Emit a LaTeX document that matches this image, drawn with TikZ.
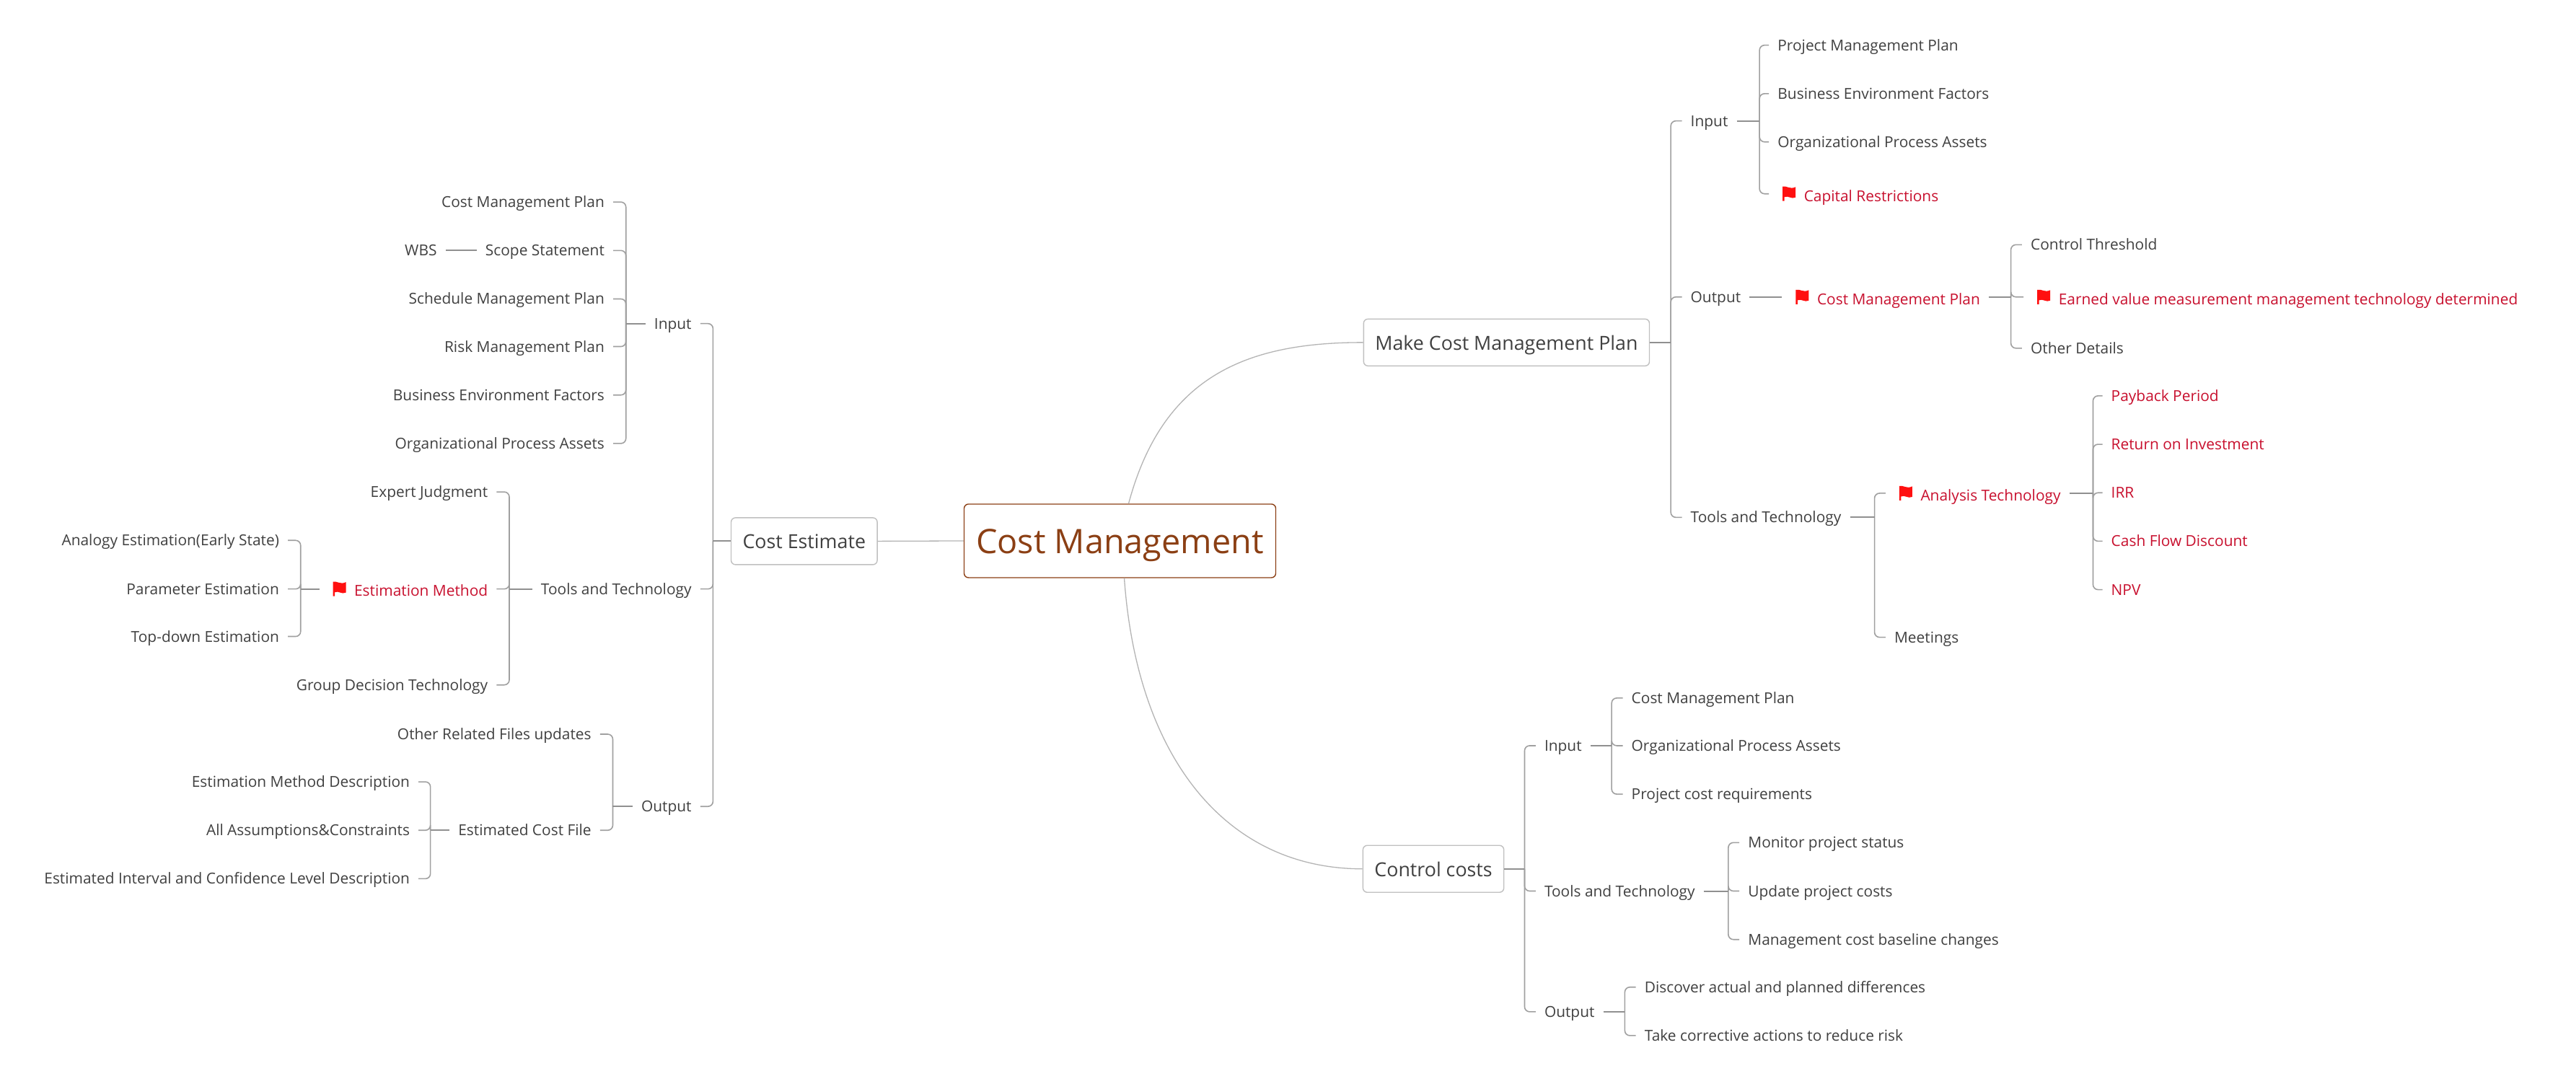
\documentclass[tikz,border=0pt]{standalone}
\usepackage{fontspec}
\setmainfont{Open Sans}
\definecolor{txt}{HTML}{404040}
\definecolor{redtxt}{HTML}{C8102E}
\definecolor{flagred}{HTML}{FF1010}
\definecolor{rootc}{HTML}{8B3F14}
\definecolor{stemc}{HTML}{909090}
\definecolor{twigc}{HTML}{A0A0A0}
\definecolor{curvec}{HTML}{B4B4B4}
\definecolor{boxc}{HTML}{C0C0C0}
\tikzset{
  base/.style={font=\fontsize{20.9}{25}\selectfont,text=txt,text height=15pt,text depth=0pt,inner ysep=4pt,inner xsep=12pt},
  R/.style={base,anchor=west,xshift=-12pt},
  L/.style={base,anchor=east,xshift=12pt},
  hot/.style={text=redtxt},
  topic/.style={draw=boxc,line width=1.4pt,rounded corners=6pt,fill=white,font=\fontsize{26.8}{32}\selectfont,text=txt,text height=21pt,text depth=0pt,minimum height=65pt,inner xsep=16pt,inner ysep=0pt},
  rootbox/.style={draw=rootc,line width=1.4pt,rounded corners=6pt,fill=white,font=\fontsize{46.8}{54}\selectfont,text=rootc,text height=35pt,text depth=0pt,minimum width=432pt,minimum height=102pt,inner sep=0pt},
  stem/.style={draw=stemc,line width=2pt},
  twig/.style={draw=twigc,line width=1.6pt,rounded corners=7pt},
  curve/.style={draw=curvec,line width=1.3pt},
}
\newcommand{\flagged}[1]{\hspace*{36.4pt}\raisebox{-2.8pt}{#1}}
\newcommand{\treeR}[3]{%
  \coordinate (sp) at (#2,0);
  \coordinate (jn) at (#1.east -| sp);
  \foreach \c in {#3} {\draw[twig] (jn) |- (\c.west);}
  \draw[stem] (#1.east) -- (jn);
}
\newcommand{\treeL}[3]{%
  \coordinate (sp) at (#2,0);
  \coordinate (jn) at (#1.west -| sp);
  \foreach \c in {#3} {\draw[twig] (jn) |- (\c.east);}
  \draw[stem] (#1.west) -- (jn);
}
\newcommand{\flagon}[1]{%
  \fill[flagred,shift={(#1.west)},xshift=19pt,x=1pt,y=1pt]
    (0,10) .. controls (6,11.5) and (10,5.5) .. (18,9.5) -- (18,-5)
    .. controls (12,-8) and (8,-2) .. (2.5,-4.5) -- (2.5,-10) -- (0,-10) -- cycle;
}
\begin{document}
\begin{tikzpicture}[x=2.27742pt,y=-2.27742pt]
\path[use as bounding box,fill=white] (0,0) rectangle (1568,663);

% centre and main topics
\node[rootbox] (root) at (681.7,329.3) {Cost Management};
\node[topic] (mk) at (917,208.5) {Make Cost Management Plan};
\node[topic] (cc) at (872.5,529) {Control costs};
\node[topic] (ce) at (489.5,329.5) {Cost Estimate};
\draw[curve] ([xshift=12pt]root.north) .. controls (708,228) and (760,208.5) .. (mk.west);
\draw[curve] ([xshift=6pt]root.south) .. controls (692,461) and (746,529) .. (cc.west);
\draw[curve] (root.west) -- (ce.east);

% Make Cost Management Plan
\node[R] (mi) at (1029,73.6) {Input};
\node[R] (mo) at (1029,180.8) {Output};
\node[R] (mt) at (1029,315) {Tools and Technology};
\node[R] (mi1) at (1082,27.5) {Project Management Plan};
\node[R] (mi2) at (1082,57) {Business Environment Factors};
\node[R] (mi3) at (1082,86.4) {Organizational Process Assets};
\node[R,hot] (mi4) at (1082,118) {\flagged{Capital Restrictions}};
\node[R,hot] (mo1) at (1090,180.8) {\flagged{Cost Management Plan}};
\node[R] (mo11) at (1236,149) {Control Threshold};
\node[R,hot] (mo12) at (1237,180.8) {\flagged{Earned value measurement management technology determined}};
\node[R] (mo13) at (1236,212) {Other Details};
\node[R,hot] (mt1) at (1153,300.3) {\flagged{Analysis Technology}};
\node[R] (mt2) at (1153,388) {Meetings};
\node[R,hot] (mt11) at (1285,241) {Payback Period};
\node[R,hot] (mt12) at (1285,270.5) {Return on Investment};
\node[R,hot] (mt13) at (1285,300) {IRR};
\node[R,hot] (mt14) at (1285,329.5) {Cash Flow Discount};
\node[R,hot] (mt15) at (1285,359) {NPV};
\treeR{mk}{1017}{mi,mo,mt}
\treeR{mi}{1071}{mi1,mi2,mi3,mi4}
\draw[stem] (mo.east) -- (mo.east -| mo1.west);
\treeR{mo1}{1224}{mo11,mo12,mo13}
\treeR{mt}{1141}{mt1,mt2}
\treeR{mt1}{1274}{mt11,mt12,mt13,mt14,mt15}
\flagon{mi4}\flagon{mo1}\flagon{mo12}\flagon{mt1}

% Control costs
\node[R] (ci) at (940,454) {Input};
\node[R] (ct) at (940,542.5) {Tools and Technology};
\node[R] (co) at (940,616) {Output};
\node[R] (ci1) at (993,425) {Cost Management Plan};
\node[R] (ci2) at (993,454) {Organizational Process Assets};
\node[R] (ci3) at (993,483.5) {Project cost requirements};
\node[R] (ct1) at (1064,513) {Monitor project status};
\node[R] (ct2) at (1064,542.5) {Update project costs};
\node[R] (ct3) at (1064,572) {Management cost baseline changes};
\node[R] (co1) at (1001,601) {Discover actual and planned differences};
\node[R] (co2) at (1001,630.5) {Take corrective actions to reduce risk};
\treeR{cc}{928}{ci,ct,co}
\treeR{ci}{981}{ci1,ci2,ci3}
\treeR{ct}{1052}{ct1,ct2,ct3}
\treeR{co}{989}{co1,co2}

% Cost Estimate
\node[L] (ei) at (421,197) {Input};
\node[L] (et) at (421,358.6) {Tools and Technology};
\node[L] (eo) at (421,491) {Output};
\node[L] (ei1) at (368,123) {Cost Management Plan};
\node[L] (ei2) at (368,152.5) {Scope Statement};
\node[L] (ei3) at (368,182) {Schedule Management Plan};
\node[L] (ei4) at (368,211) {Risk Management Plan};
\node[L] (ei5) at (368,240.5) {Business Environment Factors};
\node[L] (ei6) at (368,270) {Organizational Process Assets};
\node[L] (wbs) at (266,152.5) {WBS};
\node[L] (et1) at (297,299.5) {Expert Judgment};
\node[L,hot] (et2) at (297,358.6) {\flagged{Estimation Method}};
\node[L] (et3) at (297,417) {Group Decision Technology};
\node[L] (et21) at (170,329) {Analogy Estimation(Early State)};
\node[L] (et22) at (170,358.6) {Parameter Estimation};
\node[L] (et23) at (170,387.5) {Top-down Estimation};
\node[L] (eo1) at (360,447) {Other Related Files updates};
\node[L] (eo2) at (360,505.5) {Estimated Cost File};
\node[L] (eo21) at (249.5,476) {Estimation Method Description};
\node[L] (eo22) at (249.5,505.5) {All Assumptions\&Constraints};
\node[L] (eo23) at (249.5,535) {Estimated Interval and Confidence Level Description};
\treeL{ce}{434}{ei,et,eo}
\treeL{ei}{381}{ei1,ei2,ei3,ei4,ei5,ei6}
\draw[stem] (ei2.west) -- (ei2.west -| wbs.east);
\treeL{et}{310}{et1,et2,et3}
\treeL{et2}{183}{et21,et22,et23}
\treeL{eo}{373}{eo1,eo2}
\treeL{eo2}{262}{eo21,eo22,eo23}
\flagon{et2}
\end{tikzpicture}
\end{document}
